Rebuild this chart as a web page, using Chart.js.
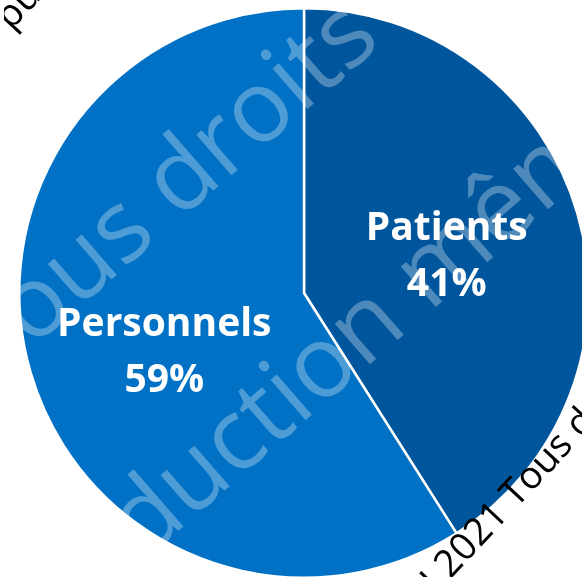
<!DOCTYPE html>
<html>
<head>
<meta charset="utf-8">
<script src="https://cdn.jsdelivr.net/npm/chart.js@4.4.1/dist/chart.umd.min.js"></script>
<style>
    html, body { margin: 0; padding: 0; background: #fff; overflow: hidden; width: 582px; height: 577px; }
    #wrap { position: absolute; left: 4px; top: -7px; width: 600px; height: 600px; }
</style>
</head>
<body>
<div id="wrap"><canvas id="pieChart" width="600" height="600"></canvas></div>
<script>
// Données
const categories = ['Patients', 'Personnels'];
const shares = [41, 59];
const colors = ['#00569C', '#0071C5'];

// Décalages des étiquettes (px) par rapport au centre du secteur
const labelShift = [[6, -1], [-3, 15]];

// Filigrane
const watermarkLines = [
    { text: 'Tous droits réservés', x: -10, y: 385, angle: -41, size: 100, color: 'rgba(255,255,255,0.3)' },
    { text: 'reproduction même partielle', x: -52, y: 731, angle: -41, size: 100, color: 'rgba(255,255,255,0.3)' },
    { text: 'AI 2021 Tous droits réservés', x: 420, y: 612, angle: -47, size: 38, color: '#000' },
    { text: 'publication', x: 11, y: 31, angle: -47, size: 38, color: '#000' }
];

const $ = (id) => document.getElementById(id);

// Étiquettes dans les secteurs
const sliceLabels = {
    id: 'sliceLabels',
    afterDatasetsDraw(chart) {
        const ctx = chart.ctx;
        const meta = chart.getDatasetMeta(0);
        ctx.save();
        ctx.fillStyle = '#fff';
        ctx.font = 'bold 39px "Open Sans"';
        ctx.textAlign = 'center';
        ctx.textBaseline = 'alphabetic';
        meta.data.forEach((arc, i) => {
            const p = arc.tooltipPosition();
            const x = p.x + labelShift[i][0];
            const y = p.y + labelShift[i][1];
            ctx.fillText(categories[i], x, y - 12);
            ctx.fillText(shares[i] + '%', x, y + 44);
        });
        ctx.restore();
    }
};

// Filigrane (coordonnées de la fenêtre)
const watermark = {
    id: 'watermark',
    afterDraw(chart) {
        const ctx = chart.ctx;
        const box = $('wrap');
        const ox = box.offsetLeft, oy = box.offsetTop;
        watermarkLines.forEach(w => {
            ctx.save();
            ctx.translate(w.x - ox, w.y - oy);
            ctx.rotate(w.angle * Math.PI / 180);
            ctx.font = `${w.size}px "Open Sans"`;
            ctx.fillStyle = w.color;
            ctx.textAlign = 'left';
            ctx.textBaseline = 'alphabetic';
            ctx.fillText(w.text, 0, 0);
            ctx.restore();
        });
    }
};

new Chart($('pieChart').getContext('2d'), {
    type: 'pie',
    data: {
        labels: categories,
        datasets: [{
            data: shares,
            backgroundColor: colors,
            borderColor: '#fff',
            borderWidth: 2.5
        }]
    },
    options: {
        responsive: false,
        animation: false,
        layout: { padding: 14 },
        plugins: {
            legend: { display: false },
            tooltip: { enabled: false }
        }
    },
    plugins: [sliceLabels, watermark]
});
</script>
</body>
</html>
